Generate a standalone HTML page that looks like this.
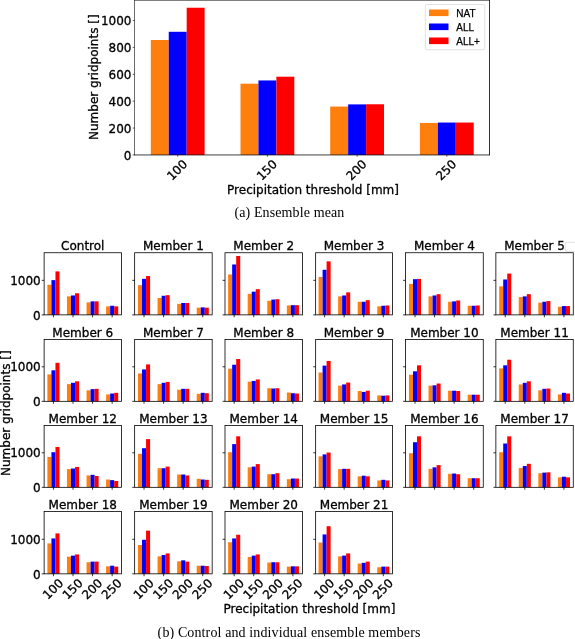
<!DOCTYPE html><html><head><meta charset="utf-8"><title>Figure</title><style>
html,body{margin:0;padding:0;background:#fff}
svg{display:block;will-change:transform}
.dv{font-family:"DejaVu Sans","Liberation Sans",sans-serif;font-size:12px;fill:#000;stroke:#000;stroke-width:0.3px}
.lg{font-family:"Liberation Sans",sans-serif;font-size:10px;fill:#000;stroke:#000;stroke-width:0.25px}
.cp{font-family:"Liberation Serif",serif;font-size:14px;fill:#000;letter-spacing:0.12px}
</style></head><body>
<svg width="575" height="639" viewBox="0 0 575 639">
<rect x="0" y="0" width="575" height="639" fill="#fff"/>
<rect x="150.80" y="40.00" width="17.94" height="114.95" fill="#ff7f0e"/>
<rect x="168.74" y="31.79" width="17.94" height="123.16" fill="#0000ff"/>
<rect x="186.68" y="7.73" width="17.94" height="147.22" fill="#ff0000"/>
<rect x="240.50" y="83.69" width="17.94" height="71.26" fill="#ff7f0e"/>
<rect x="258.44" y="80.46" width="17.94" height="74.49" fill="#0000ff"/>
<rect x="276.38" y="76.70" width="17.94" height="78.25" fill="#ff0000"/>
<rect x="330.20" y="106.55" width="17.94" height="48.40" fill="#ff7f0e"/>
<rect x="348.14" y="104.40" width="17.94" height="50.55" fill="#0000ff"/>
<rect x="366.08" y="104.26" width="17.94" height="50.69" fill="#ff0000"/>
<rect x="419.90" y="122.95" width="17.94" height="32.00" fill="#ff7f0e"/>
<rect x="437.84" y="122.55" width="17.94" height="32.40" fill="#0000ff"/>
<rect x="455.78" y="122.55" width="17.94" height="32.40" fill="#ff0000"/>
<line x1="134.5" y1="0.05" x2="134.5" y2="155.25" stroke="#000" stroke-width="0.58"/>
<line x1="489.5" y1="0.05" x2="489.5" y2="155.25" stroke="#000" stroke-width="0.8"/>
<line x1="134.20" y1="0.35" x2="489.80" y2="0.35" stroke="#000" stroke-width="0.6"/>
<line x1="134.20" y1="154.95" x2="489.80" y2="154.95" stroke="#000" stroke-width="0.75"/>
<line x1="132.7" y1="154.95" x2="134.5" y2="154.95" stroke="#000" stroke-width="0.6"/>
<text class="dv" x="131.45" y="159.55" text-anchor="end">0</text>
<line x1="132.7" y1="128.06" x2="134.5" y2="128.06" stroke="#000" stroke-width="0.6"/>
<text class="dv" x="131.45" y="132.66" text-anchor="end">200</text>
<line x1="132.7" y1="101.17" x2="134.5" y2="101.17" stroke="#000" stroke-width="0.6"/>
<text class="dv" x="131.45" y="105.77" text-anchor="end">400</text>
<line x1="132.7" y1="74.28" x2="134.5" y2="74.28" stroke="#000" stroke-width="0.6"/>
<text class="dv" x="131.45" y="78.88" text-anchor="end">600</text>
<line x1="132.7" y1="47.39" x2="134.5" y2="47.39" stroke="#000" stroke-width="0.6"/>
<text class="dv" x="131.45" y="51.99" text-anchor="end">800</text>
<line x1="132.7" y1="20.50" x2="134.5" y2="20.50" stroke="#000" stroke-width="0.6"/>
<text class="dv" x="131.45" y="25.10" text-anchor="end">1000</text>
<line x1="177.71" y1="154.95" x2="177.71" y2="156.75" stroke="#000" stroke-width="0.6"/>
<text class="dv" transform="translate(176.91,169.9) rotate(-45)" x="0" y="4.4" text-anchor="middle">100</text>
<line x1="267.41" y1="154.95" x2="267.41" y2="156.75" stroke="#000" stroke-width="0.6"/>
<text class="dv" transform="translate(266.61,169.9) rotate(-45)" x="0" y="4.4" text-anchor="middle">150</text>
<line x1="357.11" y1="154.95" x2="357.11" y2="156.75" stroke="#000" stroke-width="0.6"/>
<text class="dv" transform="translate(356.31,169.9) rotate(-45)" x="0" y="4.4" text-anchor="middle">200</text>
<line x1="446.81" y1="154.95" x2="446.81" y2="156.75" stroke="#000" stroke-width="0.6"/>
<text class="dv" transform="translate(446.01,169.9) rotate(-45)" x="0" y="4.4" text-anchor="middle">250</text>
<text class="dv" transform="translate(93.3,77.2) rotate(-90)" x="0" y="4.4" text-anchor="middle">Number gridpoints []</text>
<text class="dv" x="313.0" y="193.5" text-anchor="middle">Precipitation threshold [mm]</text>
<rect x="425.3" y="4.5" width="59.5" height="45.2" rx="1.6" ry="1.6" fill="#fff" fill-opacity="0.8" stroke="#d4d4d4" stroke-width="0.7"/>
<rect x="429" y="9.5" width="19.5" height="6.6" fill="#ff7f0e"/>
<text class="lg" x="456.3" y="16.5">NAT</text>
<rect x="429" y="23.5" width="19.5" height="6.6" fill="#0000ff"/>
<text class="lg" x="456.3" y="30.5">ALL</text>
<rect x="429" y="37.5" width="19.5" height="6.6" fill="#ff0000"/>
<text class="lg" x="456.3" y="44.5">ALL+</text>
<text class="cp" x="234.4" y="217">(a) Ensemble mean</text>
<rect x="47.40" y="284.77" width="4.03" height="30.10" fill="#ff7f0e"/>
<rect x="51.43" y="280.12" width="4.03" height="34.75" fill="#0000ff"/>
<rect x="55.46" y="271.37" width="4.03" height="43.50" fill="#ff0000"/>
<rect x="66.97" y="296.37" width="4.03" height="18.50" fill="#ff7f0e"/>
<rect x="71.00" y="295.47" width="4.03" height="19.40" fill="#0000ff"/>
<rect x="75.03" y="293.27" width="4.03" height="21.60" fill="#ff0000"/>
<rect x="86.54" y="302.37" width="4.03" height="12.50" fill="#ff7f0e"/>
<rect x="90.57" y="301.37" width="4.03" height="13.50" fill="#0000ff"/>
<rect x="94.60" y="301.37" width="4.03" height="13.50" fill="#ff0000"/>
<rect x="106.11" y="306.37" width="4.03" height="8.50" fill="#ff7f0e"/>
<rect x="110.14" y="305.77" width="4.03" height="9.10" fill="#0000ff"/>
<rect x="114.17" y="306.37" width="4.03" height="8.50" fill="#ff0000"/>
<rect x="44.13" y="252.74" width="77.30" height="62.13" fill="none" stroke="#000" stroke-width="0.8"/>
<line x1="41.73" y1="314.87" x2="44.13" y2="314.87" stroke="#000" stroke-width="0.8"/>
<text class="dv" x="40.73" y="319.57" text-anchor="end">0</text>
<line x1="41.73" y1="280.34" x2="44.13" y2="280.34" stroke="#000" stroke-width="0.8"/>
<text class="dv" x="40.73" y="285.04" text-anchor="end">1000</text>
<line x1="53.45" y1="314.87" x2="53.45" y2="317.27" stroke="#000" stroke-width="0.8"/>
<line x1="73.02" y1="314.87" x2="73.02" y2="317.27" stroke="#000" stroke-width="0.8"/>
<line x1="92.58" y1="314.87" x2="92.58" y2="317.27" stroke="#000" stroke-width="0.8"/>
<line x1="112.16" y1="314.87" x2="112.16" y2="317.27" stroke="#000" stroke-width="0.8"/>
<text class="dv" x="82.78" y="250.04" text-anchor="middle">Control</text>
<rect x="138.00" y="285.17" width="4.03" height="29.70" fill="#ff7f0e"/>
<rect x="142.03" y="278.87" width="4.03" height="36.00" fill="#0000ff"/>
<rect x="146.06" y="276.07" width="4.03" height="38.80" fill="#ff0000"/>
<rect x="157.57" y="297.97" width="4.03" height="16.90" fill="#ff7f0e"/>
<rect x="161.60" y="295.77" width="4.03" height="19.10" fill="#0000ff"/>
<rect x="165.63" y="295.17" width="4.03" height="19.70" fill="#ff0000"/>
<rect x="177.14" y="303.87" width="4.03" height="11.00" fill="#ff7f0e"/>
<rect x="181.17" y="302.97" width="4.03" height="11.90" fill="#0000ff"/>
<rect x="185.20" y="302.97" width="4.03" height="11.90" fill="#ff0000"/>
<rect x="196.71" y="307.67" width="4.03" height="7.20" fill="#ff7f0e"/>
<rect x="200.74" y="307.37" width="4.03" height="7.50" fill="#0000ff"/>
<rect x="204.77" y="307.67" width="4.03" height="7.20" fill="#ff0000"/>
<rect x="134.65" y="252.74" width="77.52" height="62.13" fill="none" stroke="#000" stroke-width="0.8"/>
<line x1="132.25" y1="314.87" x2="134.65" y2="314.87" stroke="#000" stroke-width="0.8"/>
<line x1="132.25" y1="280.34" x2="134.65" y2="280.34" stroke="#000" stroke-width="0.8"/>
<line x1="144.04" y1="314.87" x2="144.04" y2="317.27" stroke="#000" stroke-width="0.8"/>
<line x1="163.61" y1="314.87" x2="163.61" y2="317.27" stroke="#000" stroke-width="0.8"/>
<line x1="183.18" y1="314.87" x2="183.18" y2="317.27" stroke="#000" stroke-width="0.8"/>
<line x1="202.75" y1="314.87" x2="202.75" y2="317.27" stroke="#000" stroke-width="0.8"/>
<text class="dv" x="173.41" y="250.04" text-anchor="middle">Member 1</text>
<rect x="228.13" y="274.47" width="4.03" height="40.40" fill="#ff7f0e"/>
<rect x="232.16" y="264.47" width="4.03" height="50.40" fill="#0000ff"/>
<rect x="236.19" y="255.97" width="4.03" height="58.90" fill="#ff0000"/>
<rect x="247.70" y="293.87" width="4.03" height="21.00" fill="#ff7f0e"/>
<rect x="251.73" y="291.67" width="4.03" height="23.20" fill="#0000ff"/>
<rect x="255.76" y="289.17" width="4.03" height="25.70" fill="#ff0000"/>
<rect x="267.27" y="300.77" width="4.03" height="14.10" fill="#ff7f0e"/>
<rect x="271.30" y="299.57" width="4.03" height="15.30" fill="#0000ff"/>
<rect x="275.33" y="299.17" width="4.03" height="15.70" fill="#ff0000"/>
<rect x="286.84" y="305.47" width="4.03" height="9.40" fill="#ff7f0e"/>
<rect x="290.87" y="305.17" width="4.03" height="9.70" fill="#0000ff"/>
<rect x="294.90" y="305.17" width="4.03" height="9.70" fill="#ff0000"/>
<rect x="225.00" y="252.74" width="77.48" height="62.13" fill="none" stroke="#000" stroke-width="0.8"/>
<line x1="222.60" y1="314.87" x2="225.00" y2="314.87" stroke="#000" stroke-width="0.8"/>
<line x1="222.60" y1="280.34" x2="225.00" y2="280.34" stroke="#000" stroke-width="0.8"/>
<line x1="234.17" y1="314.87" x2="234.17" y2="317.27" stroke="#000" stroke-width="0.8"/>
<line x1="253.74" y1="314.87" x2="253.74" y2="317.27" stroke="#000" stroke-width="0.8"/>
<line x1="273.31" y1="314.87" x2="273.31" y2="317.27" stroke="#000" stroke-width="0.8"/>
<line x1="292.88" y1="314.87" x2="292.88" y2="317.27" stroke="#000" stroke-width="0.8"/>
<text class="dv" x="263.74" y="250.04" text-anchor="middle">Member 2</text>
<rect x="318.55" y="276.97" width="4.03" height="37.90" fill="#ff7f0e"/>
<rect x="322.58" y="269.77" width="4.03" height="45.10" fill="#0000ff"/>
<rect x="326.61" y="261.37" width="4.03" height="53.50" fill="#ff0000"/>
<rect x="338.12" y="296.37" width="4.03" height="18.50" fill="#ff7f0e"/>
<rect x="342.15" y="295.47" width="4.03" height="19.40" fill="#0000ff"/>
<rect x="346.18" y="292.37" width="4.03" height="22.50" fill="#ff0000"/>
<rect x="357.69" y="301.77" width="4.03" height="13.10" fill="#ff7f0e"/>
<rect x="361.72" y="301.77" width="4.03" height="13.10" fill="#0000ff"/>
<rect x="365.75" y="300.17" width="4.03" height="14.70" fill="#ff0000"/>
<rect x="377.26" y="306.37" width="4.03" height="8.50" fill="#ff7f0e"/>
<rect x="381.29" y="305.77" width="4.03" height="9.10" fill="#0000ff"/>
<rect x="385.32" y="305.47" width="4.03" height="9.40" fill="#ff0000"/>
<rect x="315.65" y="252.74" width="76.83" height="62.13" fill="none" stroke="#000" stroke-width="0.8"/>
<line x1="313.25" y1="314.87" x2="315.65" y2="314.87" stroke="#000" stroke-width="0.8"/>
<line x1="313.25" y1="280.34" x2="315.65" y2="280.34" stroke="#000" stroke-width="0.8"/>
<line x1="324.60" y1="314.87" x2="324.60" y2="317.27" stroke="#000" stroke-width="0.8"/>
<line x1="344.17" y1="314.87" x2="344.17" y2="317.27" stroke="#000" stroke-width="0.8"/>
<line x1="363.74" y1="314.87" x2="363.74" y2="317.27" stroke="#000" stroke-width="0.8"/>
<line x1="383.31" y1="314.87" x2="383.31" y2="317.27" stroke="#000" stroke-width="0.8"/>
<text class="dv" x="354.06" y="250.04" text-anchor="middle">Member 3</text>
<rect x="408.95" y="283.87" width="4.03" height="31.00" fill="#ff7f0e"/>
<rect x="412.98" y="279.17" width="4.03" height="35.70" fill="#0000ff"/>
<rect x="417.01" y="278.87" width="4.03" height="36.00" fill="#ff0000"/>
<rect x="428.52" y="296.37" width="4.03" height="18.50" fill="#ff7f0e"/>
<rect x="432.55" y="295.47" width="4.03" height="19.40" fill="#0000ff"/>
<rect x="436.58" y="294.17" width="4.03" height="20.70" fill="#ff0000"/>
<rect x="448.09" y="301.77" width="4.03" height="13.10" fill="#ff7f0e"/>
<rect x="452.12" y="301.37" width="4.03" height="13.50" fill="#0000ff"/>
<rect x="456.15" y="300.47" width="4.03" height="14.40" fill="#ff0000"/>
<rect x="467.66" y="305.77" width="4.03" height="9.10" fill="#ff7f0e"/>
<rect x="471.69" y="305.77" width="4.03" height="9.10" fill="#0000ff"/>
<rect x="475.72" y="305.47" width="4.03" height="9.40" fill="#ff0000"/>
<rect x="405.50" y="252.74" width="77.76" height="62.13" fill="none" stroke="#000" stroke-width="0.8"/>
<line x1="403.10" y1="314.87" x2="405.50" y2="314.87" stroke="#000" stroke-width="0.8"/>
<line x1="403.10" y1="280.34" x2="405.50" y2="280.34" stroke="#000" stroke-width="0.8"/>
<line x1="415.00" y1="314.87" x2="415.00" y2="317.27" stroke="#000" stroke-width="0.8"/>
<line x1="434.56" y1="314.87" x2="434.56" y2="317.27" stroke="#000" stroke-width="0.8"/>
<line x1="454.13" y1="314.87" x2="454.13" y2="317.27" stroke="#000" stroke-width="0.8"/>
<line x1="473.70" y1="314.87" x2="473.70" y2="317.27" stroke="#000" stroke-width="0.8"/>
<text class="dv" x="444.38" y="250.04" text-anchor="middle">Member 4</text>
<rect x="499.18" y="286.37" width="4.03" height="28.50" fill="#ff7f0e"/>
<rect x="503.21" y="279.47" width="4.03" height="35.40" fill="#0000ff"/>
<rect x="507.24" y="273.57" width="4.03" height="41.30" fill="#ff0000"/>
<rect x="518.75" y="297.07" width="4.03" height="17.80" fill="#ff7f0e"/>
<rect x="522.78" y="296.37" width="4.03" height="18.50" fill="#0000ff"/>
<rect x="526.81" y="294.17" width="4.03" height="20.70" fill="#ff0000"/>
<rect x="538.32" y="302.67" width="4.03" height="12.20" fill="#ff7f0e"/>
<rect x="542.35" y="301.77" width="4.03" height="13.10" fill="#0000ff"/>
<rect x="546.38" y="301.07" width="4.03" height="13.80" fill="#ff0000"/>
<rect x="557.89" y="306.77" width="4.03" height="8.10" fill="#ff7f0e"/>
<rect x="561.92" y="306.07" width="4.03" height="8.80" fill="#0000ff"/>
<rect x="565.95" y="306.07" width="4.03" height="8.80" fill="#ff0000"/>
<rect x="495.87" y="252.74" width="77.39" height="62.13" fill="none" stroke="#000" stroke-width="0.8"/>
<line x1="493.47" y1="314.87" x2="495.87" y2="314.87" stroke="#000" stroke-width="0.8"/>
<line x1="493.47" y1="280.34" x2="495.87" y2="280.34" stroke="#000" stroke-width="0.8"/>
<line x1="505.23" y1="314.87" x2="505.23" y2="317.27" stroke="#000" stroke-width="0.8"/>
<line x1="524.79" y1="314.87" x2="524.79" y2="317.27" stroke="#000" stroke-width="0.8"/>
<line x1="544.37" y1="314.87" x2="544.37" y2="317.27" stroke="#000" stroke-width="0.8"/>
<line x1="563.93" y1="314.87" x2="563.93" y2="317.27" stroke="#000" stroke-width="0.8"/>
<text class="dv" x="534.57" y="250.04" text-anchor="middle">Member 5</text>
<rect x="47.40" y="374.42" width="4.03" height="26.90" fill="#ff7f0e"/>
<rect x="51.43" y="370.32" width="4.03" height="31.00" fill="#0000ff"/>
<rect x="55.46" y="362.82" width="4.03" height="38.50" fill="#ff0000"/>
<rect x="66.97" y="384.12" width="4.03" height="17.20" fill="#ff7f0e"/>
<rect x="71.00" y="382.82" width="4.03" height="18.50" fill="#0000ff"/>
<rect x="75.03" y="381.32" width="4.03" height="20.00" fill="#ff0000"/>
<rect x="86.54" y="390.32" width="4.03" height="11.00" fill="#ff7f0e"/>
<rect x="90.57" y="389.12" width="4.03" height="12.20" fill="#0000ff"/>
<rect x="94.60" y="388.82" width="4.03" height="12.50" fill="#ff0000"/>
<rect x="106.11" y="394.42" width="4.03" height="6.90" fill="#ff7f0e"/>
<rect x="110.14" y="393.52" width="4.03" height="7.80" fill="#0000ff"/>
<rect x="114.17" y="392.82" width="4.03" height="8.50" fill="#ff0000"/>
<rect x="44.13" y="339.44" width="77.30" height="61.88" fill="none" stroke="#000" stroke-width="0.8"/>
<line x1="41.73" y1="401.32" x2="44.13" y2="401.32" stroke="#000" stroke-width="0.8"/>
<text class="dv" x="40.73" y="406.02" text-anchor="end">0</text>
<line x1="41.73" y1="366.79" x2="44.13" y2="366.79" stroke="#000" stroke-width="0.8"/>
<text class="dv" x="40.73" y="371.49" text-anchor="end">1000</text>
<line x1="53.45" y1="401.32" x2="53.45" y2="403.72" stroke="#000" stroke-width="0.8"/>
<line x1="73.02" y1="401.32" x2="73.02" y2="403.72" stroke="#000" stroke-width="0.8"/>
<line x1="92.58" y1="401.32" x2="92.58" y2="403.72" stroke="#000" stroke-width="0.8"/>
<line x1="112.16" y1="401.32" x2="112.16" y2="403.72" stroke="#000" stroke-width="0.8"/>
<text class="dv" x="82.78" y="336.74" text-anchor="middle">Member 6</text>
<rect x="138.00" y="373.42" width="4.03" height="27.90" fill="#ff7f0e"/>
<rect x="142.03" y="369.42" width="4.03" height="31.90" fill="#0000ff"/>
<rect x="146.06" y="364.42" width="4.03" height="36.90" fill="#ff0000"/>
<rect x="157.57" y="384.12" width="4.03" height="17.20" fill="#ff7f0e"/>
<rect x="161.60" y="382.82" width="4.03" height="18.50" fill="#0000ff"/>
<rect x="165.63" y="381.92" width="4.03" height="19.40" fill="#ff0000"/>
<rect x="177.14" y="389.72" width="4.03" height="11.60" fill="#ff7f0e"/>
<rect x="181.17" y="388.82" width="4.03" height="12.50" fill="#0000ff"/>
<rect x="185.20" y="388.82" width="4.03" height="12.50" fill="#ff0000"/>
<rect x="196.71" y="393.82" width="4.03" height="7.50" fill="#ff7f0e"/>
<rect x="200.74" y="392.82" width="4.03" height="8.50" fill="#0000ff"/>
<rect x="204.77" y="393.22" width="4.03" height="8.10" fill="#ff0000"/>
<rect x="134.65" y="339.44" width="77.52" height="61.88" fill="none" stroke="#000" stroke-width="0.8"/>
<line x1="132.25" y1="401.32" x2="134.65" y2="401.32" stroke="#000" stroke-width="0.8"/>
<line x1="132.25" y1="366.79" x2="134.65" y2="366.79" stroke="#000" stroke-width="0.8"/>
<line x1="144.04" y1="401.32" x2="144.04" y2="403.72" stroke="#000" stroke-width="0.8"/>
<line x1="163.61" y1="401.32" x2="163.61" y2="403.72" stroke="#000" stroke-width="0.8"/>
<line x1="183.18" y1="401.32" x2="183.18" y2="403.72" stroke="#000" stroke-width="0.8"/>
<line x1="202.75" y1="401.32" x2="202.75" y2="403.72" stroke="#000" stroke-width="0.8"/>
<text class="dv" x="173.41" y="336.74" text-anchor="middle">Member 7</text>
<rect x="228.13" y="368.72" width="4.03" height="32.60" fill="#ff7f0e"/>
<rect x="232.16" y="364.72" width="4.03" height="36.60" fill="#0000ff"/>
<rect x="236.19" y="359.02" width="4.03" height="42.30" fill="#ff0000"/>
<rect x="247.70" y="381.62" width="4.03" height="19.70" fill="#ff7f0e"/>
<rect x="251.73" y="380.92" width="4.03" height="20.40" fill="#0000ff"/>
<rect x="255.76" y="379.42" width="4.03" height="21.90" fill="#ff0000"/>
<rect x="267.27" y="388.22" width="4.03" height="13.10" fill="#ff7f0e"/>
<rect x="271.30" y="388.52" width="4.03" height="12.80" fill="#0000ff"/>
<rect x="275.33" y="388.22" width="4.03" height="13.10" fill="#ff0000"/>
<rect x="286.84" y="392.52" width="4.03" height="8.80" fill="#ff7f0e"/>
<rect x="290.87" y="393.22" width="4.03" height="8.10" fill="#0000ff"/>
<rect x="294.90" y="393.52" width="4.03" height="7.80" fill="#ff0000"/>
<rect x="225.00" y="339.44" width="77.48" height="61.88" fill="none" stroke="#000" stroke-width="0.8"/>
<line x1="222.60" y1="401.32" x2="225.00" y2="401.32" stroke="#000" stroke-width="0.8"/>
<line x1="222.60" y1="366.79" x2="225.00" y2="366.79" stroke="#000" stroke-width="0.8"/>
<line x1="234.17" y1="401.32" x2="234.17" y2="403.72" stroke="#000" stroke-width="0.8"/>
<line x1="253.74" y1="401.32" x2="253.74" y2="403.72" stroke="#000" stroke-width="0.8"/>
<line x1="273.31" y1="401.32" x2="273.31" y2="403.72" stroke="#000" stroke-width="0.8"/>
<line x1="292.88" y1="401.32" x2="292.88" y2="403.72" stroke="#000" stroke-width="0.8"/>
<text class="dv" x="263.74" y="336.74" text-anchor="middle">Member 8</text>
<rect x="318.55" y="372.52" width="4.03" height="28.80" fill="#ff7f0e"/>
<rect x="322.58" y="365.62" width="4.03" height="35.70" fill="#0000ff"/>
<rect x="326.61" y="360.92" width="4.03" height="40.40" fill="#ff0000"/>
<rect x="338.12" y="385.62" width="4.03" height="15.70" fill="#ff7f0e"/>
<rect x="342.15" y="384.42" width="4.03" height="16.90" fill="#0000ff"/>
<rect x="346.18" y="382.52" width="4.03" height="18.80" fill="#ff0000"/>
<rect x="357.69" y="391.02" width="4.03" height="10.30" fill="#ff7f0e"/>
<rect x="361.72" y="391.92" width="4.03" height="9.40" fill="#0000ff"/>
<rect x="365.75" y="390.72" width="4.03" height="10.60" fill="#ff0000"/>
<rect x="377.26" y="395.42" width="4.03" height="5.90" fill="#ff7f0e"/>
<rect x="381.29" y="395.72" width="4.03" height="5.60" fill="#0000ff"/>
<rect x="385.32" y="395.42" width="4.03" height="5.90" fill="#ff0000"/>
<rect x="315.65" y="339.44" width="76.83" height="61.88" fill="none" stroke="#000" stroke-width="0.8"/>
<line x1="313.25" y1="401.32" x2="315.65" y2="401.32" stroke="#000" stroke-width="0.8"/>
<line x1="313.25" y1="366.79" x2="315.65" y2="366.79" stroke="#000" stroke-width="0.8"/>
<line x1="324.60" y1="401.32" x2="324.60" y2="403.72" stroke="#000" stroke-width="0.8"/>
<line x1="344.17" y1="401.32" x2="344.17" y2="403.72" stroke="#000" stroke-width="0.8"/>
<line x1="363.74" y1="401.32" x2="363.74" y2="403.72" stroke="#000" stroke-width="0.8"/>
<line x1="383.31" y1="401.32" x2="383.31" y2="403.72" stroke="#000" stroke-width="0.8"/>
<text class="dv" x="354.06" y="336.74" text-anchor="middle">Member 9</text>
<rect x="408.95" y="374.72" width="4.03" height="26.60" fill="#ff7f0e"/>
<rect x="412.98" y="371.32" width="4.03" height="30.00" fill="#0000ff"/>
<rect x="417.01" y="365.32" width="4.03" height="36.00" fill="#ff0000"/>
<rect x="428.52" y="385.62" width="4.03" height="15.70" fill="#ff7f0e"/>
<rect x="432.55" y="385.32" width="4.03" height="16.00" fill="#0000ff"/>
<rect x="436.58" y="383.52" width="4.03" height="17.80" fill="#ff0000"/>
<rect x="448.09" y="390.72" width="4.03" height="10.60" fill="#ff7f0e"/>
<rect x="452.12" y="390.72" width="4.03" height="10.60" fill="#0000ff"/>
<rect x="456.15" y="391.02" width="4.03" height="10.30" fill="#ff0000"/>
<rect x="467.66" y="394.72" width="4.03" height="6.60" fill="#ff7f0e"/>
<rect x="471.69" y="394.72" width="4.03" height="6.60" fill="#0000ff"/>
<rect x="475.72" y="394.72" width="4.03" height="6.60" fill="#ff0000"/>
<rect x="405.50" y="339.44" width="77.76" height="61.88" fill="none" stroke="#000" stroke-width="0.8"/>
<line x1="403.10" y1="401.32" x2="405.50" y2="401.32" stroke="#000" stroke-width="0.8"/>
<line x1="403.10" y1="366.79" x2="405.50" y2="366.79" stroke="#000" stroke-width="0.8"/>
<line x1="415.00" y1="401.32" x2="415.00" y2="403.72" stroke="#000" stroke-width="0.8"/>
<line x1="434.56" y1="401.32" x2="434.56" y2="403.72" stroke="#000" stroke-width="0.8"/>
<line x1="454.13" y1="401.32" x2="454.13" y2="403.72" stroke="#000" stroke-width="0.8"/>
<line x1="473.70" y1="401.32" x2="473.70" y2="403.72" stroke="#000" stroke-width="0.8"/>
<text class="dv" x="444.38" y="336.74" text-anchor="middle">Member 10</text>
<rect x="499.18" y="368.42" width="4.03" height="32.90" fill="#ff7f0e"/>
<rect x="503.21" y="365.32" width="4.03" height="36.00" fill="#0000ff"/>
<rect x="507.24" y="359.72" width="4.03" height="41.60" fill="#ff0000"/>
<rect x="518.75" y="384.42" width="4.03" height="16.90" fill="#ff7f0e"/>
<rect x="522.78" y="382.82" width="4.03" height="18.50" fill="#0000ff"/>
<rect x="526.81" y="381.32" width="4.03" height="20.00" fill="#ff0000"/>
<rect x="538.32" y="390.32" width="4.03" height="11.00" fill="#ff7f0e"/>
<rect x="542.35" y="388.82" width="4.03" height="12.50" fill="#0000ff"/>
<rect x="546.38" y="388.52" width="4.03" height="12.80" fill="#ff0000"/>
<rect x="557.89" y="394.42" width="4.03" height="6.90" fill="#ff7f0e"/>
<rect x="561.92" y="392.82" width="4.03" height="8.50" fill="#0000ff"/>
<rect x="565.95" y="393.52" width="4.03" height="7.80" fill="#ff0000"/>
<rect x="495.87" y="339.44" width="77.39" height="61.88" fill="none" stroke="#000" stroke-width="0.8"/>
<line x1="493.47" y1="401.32" x2="495.87" y2="401.32" stroke="#000" stroke-width="0.8"/>
<line x1="493.47" y1="366.79" x2="495.87" y2="366.79" stroke="#000" stroke-width="0.8"/>
<line x1="505.23" y1="401.32" x2="505.23" y2="403.72" stroke="#000" stroke-width="0.8"/>
<line x1="524.79" y1="401.32" x2="524.79" y2="403.72" stroke="#000" stroke-width="0.8"/>
<line x1="544.37" y1="401.32" x2="544.37" y2="403.72" stroke="#000" stroke-width="0.8"/>
<line x1="563.93" y1="401.32" x2="563.93" y2="403.72" stroke="#000" stroke-width="0.8"/>
<text class="dv" x="534.57" y="336.74" text-anchor="middle">Member 11</text>
<rect x="47.40" y="456.92" width="4.03" height="30.40" fill="#ff7f0e"/>
<rect x="51.43" y="452.22" width="4.03" height="35.10" fill="#0000ff"/>
<rect x="55.46" y="446.92" width="4.03" height="40.40" fill="#ff0000"/>
<rect x="66.97" y="469.12" width="4.03" height="18.20" fill="#ff7f0e"/>
<rect x="71.00" y="468.52" width="4.03" height="18.80" fill="#0000ff"/>
<rect x="75.03" y="466.92" width="4.03" height="20.40" fill="#ff0000"/>
<rect x="86.54" y="475.42" width="4.03" height="11.90" fill="#ff7f0e"/>
<rect x="90.57" y="474.82" width="4.03" height="12.50" fill="#0000ff"/>
<rect x="94.60" y="476.02" width="4.03" height="11.30" fill="#ff0000"/>
<rect x="106.11" y="479.52" width="4.03" height="7.80" fill="#ff7f0e"/>
<rect x="110.14" y="480.12" width="4.03" height="7.20" fill="#0000ff"/>
<rect x="114.17" y="481.02" width="4.03" height="6.30" fill="#ff0000"/>
<rect x="44.13" y="425.55" width="77.30" height="61.77" fill="none" stroke="#000" stroke-width="0.8"/>
<line x1="41.73" y1="487.32" x2="44.13" y2="487.32" stroke="#000" stroke-width="0.8"/>
<text class="dv" x="40.73" y="492.02" text-anchor="end">0</text>
<line x1="41.73" y1="452.79" x2="44.13" y2="452.79" stroke="#000" stroke-width="0.8"/>
<text class="dv" x="40.73" y="457.49" text-anchor="end">1000</text>
<line x1="53.45" y1="487.32" x2="53.45" y2="489.72" stroke="#000" stroke-width="0.8"/>
<line x1="73.02" y1="487.32" x2="73.02" y2="489.72" stroke="#000" stroke-width="0.8"/>
<line x1="92.58" y1="487.32" x2="92.58" y2="489.72" stroke="#000" stroke-width="0.8"/>
<line x1="112.16" y1="487.32" x2="112.16" y2="489.72" stroke="#000" stroke-width="0.8"/>
<text class="dv" x="82.78" y="422.85" text-anchor="middle">Member 12</text>
<rect x="138.00" y="453.82" width="4.03" height="33.50" fill="#ff7f0e"/>
<rect x="142.03" y="448.22" width="4.03" height="39.10" fill="#0000ff"/>
<rect x="146.06" y="439.12" width="4.03" height="48.20" fill="#ff0000"/>
<rect x="157.57" y="468.22" width="4.03" height="19.10" fill="#ff7f0e"/>
<rect x="161.60" y="468.22" width="4.03" height="19.10" fill="#0000ff"/>
<rect x="165.63" y="466.62" width="4.03" height="20.70" fill="#ff0000"/>
<rect x="177.14" y="474.52" width="4.03" height="12.80" fill="#ff7f0e"/>
<rect x="181.17" y="474.52" width="4.03" height="12.80" fill="#0000ff"/>
<rect x="185.20" y="475.42" width="4.03" height="11.90" fill="#ff0000"/>
<rect x="196.71" y="478.82" width="4.03" height="8.50" fill="#ff7f0e"/>
<rect x="200.74" y="479.52" width="4.03" height="7.80" fill="#0000ff"/>
<rect x="204.77" y="479.82" width="4.03" height="7.50" fill="#ff0000"/>
<rect x="134.65" y="425.55" width="77.52" height="61.77" fill="none" stroke="#000" stroke-width="0.8"/>
<line x1="132.25" y1="487.32" x2="134.65" y2="487.32" stroke="#000" stroke-width="0.8"/>
<line x1="132.25" y1="452.79" x2="134.65" y2="452.79" stroke="#000" stroke-width="0.8"/>
<line x1="144.04" y1="487.32" x2="144.04" y2="489.72" stroke="#000" stroke-width="0.8"/>
<line x1="163.61" y1="487.32" x2="163.61" y2="489.72" stroke="#000" stroke-width="0.8"/>
<line x1="183.18" y1="487.32" x2="183.18" y2="489.72" stroke="#000" stroke-width="0.8"/>
<line x1="202.75" y1="487.32" x2="202.75" y2="489.72" stroke="#000" stroke-width="0.8"/>
<text class="dv" x="173.41" y="422.85" text-anchor="middle">Member 13</text>
<rect x="228.13" y="452.22" width="4.03" height="35.10" fill="#ff7f0e"/>
<rect x="232.16" y="444.12" width="4.03" height="43.20" fill="#0000ff"/>
<rect x="236.19" y="436.32" width="4.03" height="51.00" fill="#ff0000"/>
<rect x="247.70" y="467.32" width="4.03" height="20.00" fill="#ff7f0e"/>
<rect x="251.73" y="466.62" width="4.03" height="20.70" fill="#0000ff"/>
<rect x="255.76" y="464.12" width="4.03" height="23.20" fill="#ff0000"/>
<rect x="267.27" y="474.22" width="4.03" height="13.10" fill="#ff7f0e"/>
<rect x="271.30" y="474.22" width="4.03" height="13.10" fill="#0000ff"/>
<rect x="275.33" y="473.22" width="4.03" height="14.10" fill="#ff0000"/>
<rect x="286.84" y="479.22" width="4.03" height="8.10" fill="#ff7f0e"/>
<rect x="290.87" y="478.52" width="4.03" height="8.80" fill="#0000ff"/>
<rect x="294.90" y="478.52" width="4.03" height="8.80" fill="#ff0000"/>
<rect x="225.00" y="425.55" width="77.48" height="61.77" fill="none" stroke="#000" stroke-width="0.8"/>
<line x1="222.60" y1="487.32" x2="225.00" y2="487.32" stroke="#000" stroke-width="0.8"/>
<line x1="222.60" y1="452.79" x2="225.00" y2="452.79" stroke="#000" stroke-width="0.8"/>
<line x1="234.17" y1="487.32" x2="234.17" y2="489.72" stroke="#000" stroke-width="0.8"/>
<line x1="253.74" y1="487.32" x2="253.74" y2="489.72" stroke="#000" stroke-width="0.8"/>
<line x1="273.31" y1="487.32" x2="273.31" y2="489.72" stroke="#000" stroke-width="0.8"/>
<line x1="292.88" y1="487.32" x2="292.88" y2="489.72" stroke="#000" stroke-width="0.8"/>
<text class="dv" x="263.74" y="422.85" text-anchor="middle">Member 14</text>
<rect x="318.55" y="456.32" width="4.03" height="31.00" fill="#ff7f0e"/>
<rect x="322.58" y="454.42" width="4.03" height="32.90" fill="#0000ff"/>
<rect x="326.61" y="452.52" width="4.03" height="34.80" fill="#ff0000"/>
<rect x="338.12" y="469.12" width="4.03" height="18.20" fill="#ff7f0e"/>
<rect x="342.15" y="468.82" width="4.03" height="18.50" fill="#0000ff"/>
<rect x="346.18" y="468.82" width="4.03" height="18.50" fill="#ff0000"/>
<rect x="357.69" y="476.32" width="4.03" height="11.00" fill="#ff7f0e"/>
<rect x="361.72" y="475.72" width="4.03" height="11.60" fill="#0000ff"/>
<rect x="365.75" y="476.32" width="4.03" height="11.00" fill="#ff0000"/>
<rect x="377.26" y="480.42" width="4.03" height="6.90" fill="#ff7f0e"/>
<rect x="381.29" y="479.82" width="4.03" height="7.50" fill="#0000ff"/>
<rect x="385.32" y="480.42" width="4.03" height="6.90" fill="#ff0000"/>
<rect x="315.65" y="425.55" width="76.83" height="61.77" fill="none" stroke="#000" stroke-width="0.8"/>
<line x1="313.25" y1="487.32" x2="315.65" y2="487.32" stroke="#000" stroke-width="0.8"/>
<line x1="313.25" y1="452.79" x2="315.65" y2="452.79" stroke="#000" stroke-width="0.8"/>
<line x1="324.60" y1="487.32" x2="324.60" y2="489.72" stroke="#000" stroke-width="0.8"/>
<line x1="344.17" y1="487.32" x2="344.17" y2="489.72" stroke="#000" stroke-width="0.8"/>
<line x1="363.74" y1="487.32" x2="363.74" y2="489.72" stroke="#000" stroke-width="0.8"/>
<line x1="383.31" y1="487.32" x2="383.31" y2="489.72" stroke="#000" stroke-width="0.8"/>
<text class="dv" x="354.06" y="422.85" text-anchor="middle">Member 15</text>
<rect x="408.95" y="453.22" width="4.03" height="34.10" fill="#ff7f0e"/>
<rect x="412.98" y="442.22" width="4.03" height="45.10" fill="#0000ff"/>
<rect x="417.01" y="436.32" width="4.03" height="51.00" fill="#ff0000"/>
<rect x="428.52" y="468.82" width="4.03" height="18.50" fill="#ff7f0e"/>
<rect x="432.55" y="467.32" width="4.03" height="20.00" fill="#0000ff"/>
<rect x="436.58" y="465.12" width="4.03" height="22.20" fill="#ff0000"/>
<rect x="448.09" y="473.82" width="4.03" height="13.50" fill="#ff7f0e"/>
<rect x="452.12" y="473.52" width="4.03" height="13.80" fill="#0000ff"/>
<rect x="456.15" y="474.22" width="4.03" height="13.10" fill="#ff0000"/>
<rect x="467.66" y="478.22" width="4.03" height="9.10" fill="#ff7f0e"/>
<rect x="471.69" y="478.22" width="4.03" height="9.10" fill="#0000ff"/>
<rect x="475.72" y="478.22" width="4.03" height="9.10" fill="#ff0000"/>
<rect x="405.50" y="425.55" width="77.76" height="61.77" fill="none" stroke="#000" stroke-width="0.8"/>
<line x1="403.10" y1="487.32" x2="405.50" y2="487.32" stroke="#000" stroke-width="0.8"/>
<line x1="403.10" y1="452.79" x2="405.50" y2="452.79" stroke="#000" stroke-width="0.8"/>
<line x1="415.00" y1="487.32" x2="415.00" y2="489.72" stroke="#000" stroke-width="0.8"/>
<line x1="434.56" y1="487.32" x2="434.56" y2="489.72" stroke="#000" stroke-width="0.8"/>
<line x1="454.13" y1="487.32" x2="454.13" y2="489.72" stroke="#000" stroke-width="0.8"/>
<line x1="473.70" y1="487.32" x2="473.70" y2="489.72" stroke="#000" stroke-width="0.8"/>
<text class="dv" x="444.38" y="422.85" text-anchor="middle">Member 16</text>
<rect x="499.18" y="452.22" width="4.03" height="35.10" fill="#ff7f0e"/>
<rect x="503.21" y="443.52" width="4.03" height="43.80" fill="#0000ff"/>
<rect x="507.24" y="436.32" width="4.03" height="51.00" fill="#ff0000"/>
<rect x="518.75" y="467.92" width="4.03" height="19.40" fill="#ff7f0e"/>
<rect x="522.78" y="466.02" width="4.03" height="21.30" fill="#0000ff"/>
<rect x="526.81" y="463.82" width="4.03" height="23.50" fill="#ff0000"/>
<rect x="538.32" y="473.22" width="4.03" height="14.10" fill="#ff7f0e"/>
<rect x="542.35" y="472.62" width="4.03" height="14.70" fill="#0000ff"/>
<rect x="546.38" y="472.32" width="4.03" height="15.00" fill="#ff0000"/>
<rect x="557.89" y="477.32" width="4.03" height="10.00" fill="#ff7f0e"/>
<rect x="561.92" y="476.72" width="4.03" height="10.60" fill="#0000ff"/>
<rect x="565.95" y="477.32" width="4.03" height="10.00" fill="#ff0000"/>
<rect x="495.87" y="425.55" width="77.39" height="61.77" fill="none" stroke="#000" stroke-width="0.8"/>
<line x1="493.47" y1="487.32" x2="495.87" y2="487.32" stroke="#000" stroke-width="0.8"/>
<line x1="493.47" y1="452.79" x2="495.87" y2="452.79" stroke="#000" stroke-width="0.8"/>
<line x1="505.23" y1="487.32" x2="505.23" y2="489.72" stroke="#000" stroke-width="0.8"/>
<line x1="524.79" y1="487.32" x2="524.79" y2="489.72" stroke="#000" stroke-width="0.8"/>
<line x1="544.37" y1="487.32" x2="544.37" y2="489.72" stroke="#000" stroke-width="0.8"/>
<line x1="563.93" y1="487.32" x2="563.93" y2="489.72" stroke="#000" stroke-width="0.8"/>
<text class="dv" x="534.57" y="422.85" text-anchor="middle">Member 17</text>
<rect x="47.40" y="543.43" width="4.03" height="30.40" fill="#ff7f0e"/>
<rect x="51.43" y="538.43" width="4.03" height="35.40" fill="#0000ff"/>
<rect x="55.46" y="533.43" width="4.03" height="40.40" fill="#ff0000"/>
<rect x="66.97" y="556.63" width="4.03" height="17.20" fill="#ff7f0e"/>
<rect x="71.00" y="555.63" width="4.03" height="18.20" fill="#0000ff"/>
<rect x="75.03" y="554.43" width="4.03" height="19.40" fill="#ff0000"/>
<rect x="86.54" y="562.23" width="4.03" height="11.60" fill="#ff7f0e"/>
<rect x="90.57" y="561.63" width="4.03" height="12.20" fill="#0000ff"/>
<rect x="94.60" y="561.63" width="4.03" height="12.20" fill="#ff0000"/>
<rect x="106.11" y="566.33" width="4.03" height="7.50" fill="#ff7f0e"/>
<rect x="110.14" y="565.73" width="4.03" height="8.10" fill="#0000ff"/>
<rect x="114.17" y="566.63" width="4.03" height="7.20" fill="#ff0000"/>
<rect x="44.13" y="511.55" width="77.30" height="62.28" fill="none" stroke="#000" stroke-width="0.8"/>
<line x1="41.73" y1="573.83" x2="44.13" y2="573.83" stroke="#000" stroke-width="0.8"/>
<text class="dv" x="40.73" y="578.53" text-anchor="end">0</text>
<line x1="41.73" y1="539.30" x2="44.13" y2="539.30" stroke="#000" stroke-width="0.8"/>
<text class="dv" x="40.73" y="544.00" text-anchor="end">1000</text>
<line x1="53.45" y1="573.83" x2="53.45" y2="576.23" stroke="#000" stroke-width="0.8"/>
<text class="dv" transform="translate(52.84,588.83) rotate(-45)" x="0" y="4.4" text-anchor="middle">100</text>
<line x1="73.02" y1="573.83" x2="73.02" y2="576.23" stroke="#000" stroke-width="0.8"/>
<text class="dv" transform="translate(72.42,588.83) rotate(-45)" x="0" y="4.4" text-anchor="middle">150</text>
<line x1="92.58" y1="573.83" x2="92.58" y2="576.23" stroke="#000" stroke-width="0.8"/>
<text class="dv" transform="translate(91.98,588.83) rotate(-45)" x="0" y="4.4" text-anchor="middle">200</text>
<line x1="112.16" y1="573.83" x2="112.16" y2="576.23" stroke="#000" stroke-width="0.8"/>
<text class="dv" transform="translate(111.56,588.83) rotate(-45)" x="0" y="4.4" text-anchor="middle">250</text>
<text class="dv" x="82.78" y="508.85" text-anchor="middle">Member 18</text>
<rect x="138.00" y="545.03" width="4.03" height="28.80" fill="#ff7f0e"/>
<rect x="142.03" y="539.73" width="4.03" height="34.10" fill="#0000ff"/>
<rect x="146.06" y="530.63" width="4.03" height="43.20" fill="#ff0000"/>
<rect x="157.57" y="556.33" width="4.03" height="17.50" fill="#ff7f0e"/>
<rect x="161.60" y="555.03" width="4.03" height="18.80" fill="#0000ff"/>
<rect x="165.63" y="553.43" width="4.03" height="20.40" fill="#ff0000"/>
<rect x="177.14" y="561.33" width="4.03" height="12.50" fill="#ff7f0e"/>
<rect x="181.17" y="560.33" width="4.03" height="13.50" fill="#0000ff"/>
<rect x="185.20" y="561.63" width="4.03" height="12.20" fill="#ff0000"/>
<rect x="196.71" y="565.73" width="4.03" height="8.10" fill="#ff7f0e"/>
<rect x="200.74" y="565.73" width="4.03" height="8.10" fill="#0000ff"/>
<rect x="204.77" y="566.03" width="4.03" height="7.80" fill="#ff0000"/>
<rect x="134.65" y="511.55" width="77.52" height="62.28" fill="none" stroke="#000" stroke-width="0.8"/>
<line x1="132.25" y1="573.83" x2="134.65" y2="573.83" stroke="#000" stroke-width="0.8"/>
<line x1="132.25" y1="539.30" x2="134.65" y2="539.30" stroke="#000" stroke-width="0.8"/>
<line x1="144.04" y1="573.83" x2="144.04" y2="576.23" stroke="#000" stroke-width="0.8"/>
<text class="dv" transform="translate(143.44,588.83) rotate(-45)" x="0" y="4.4" text-anchor="middle">100</text>
<line x1="163.61" y1="573.83" x2="163.61" y2="576.23" stroke="#000" stroke-width="0.8"/>
<text class="dv" transform="translate(163.01,588.83) rotate(-45)" x="0" y="4.4" text-anchor="middle">150</text>
<line x1="183.18" y1="573.83" x2="183.18" y2="576.23" stroke="#000" stroke-width="0.8"/>
<text class="dv" transform="translate(182.58,588.83) rotate(-45)" x="0" y="4.4" text-anchor="middle">200</text>
<line x1="202.75" y1="573.83" x2="202.75" y2="576.23" stroke="#000" stroke-width="0.8"/>
<text class="dv" transform="translate(202.16,588.83) rotate(-45)" x="0" y="4.4" text-anchor="middle">250</text>
<text class="dv" x="173.41" y="508.85" text-anchor="middle">Member 19</text>
<rect x="228.13" y="542.23" width="4.03" height="31.60" fill="#ff7f0e"/>
<rect x="232.16" y="538.43" width="4.03" height="35.40" fill="#0000ff"/>
<rect x="236.19" y="534.73" width="4.03" height="39.10" fill="#ff0000"/>
<rect x="247.70" y="556.93" width="4.03" height="16.90" fill="#ff7f0e"/>
<rect x="251.73" y="555.63" width="4.03" height="18.20" fill="#0000ff"/>
<rect x="255.76" y="554.43" width="4.03" height="19.40" fill="#ff0000"/>
<rect x="267.27" y="562.53" width="4.03" height="11.30" fill="#ff7f0e"/>
<rect x="271.30" y="562.23" width="4.03" height="11.60" fill="#0000ff"/>
<rect x="275.33" y="562.23" width="4.03" height="11.60" fill="#ff0000"/>
<rect x="286.84" y="566.63" width="4.03" height="7.20" fill="#ff7f0e"/>
<rect x="290.87" y="566.33" width="4.03" height="7.50" fill="#0000ff"/>
<rect x="294.90" y="566.33" width="4.03" height="7.50" fill="#ff0000"/>
<rect x="225.00" y="511.55" width="77.48" height="62.28" fill="none" stroke="#000" stroke-width="0.8"/>
<line x1="222.60" y1="573.83" x2="225.00" y2="573.83" stroke="#000" stroke-width="0.8"/>
<line x1="222.60" y1="539.30" x2="225.00" y2="539.30" stroke="#000" stroke-width="0.8"/>
<line x1="234.17" y1="573.83" x2="234.17" y2="576.23" stroke="#000" stroke-width="0.8"/>
<text class="dv" transform="translate(233.57,588.83) rotate(-45)" x="0" y="4.4" text-anchor="middle">100</text>
<line x1="253.74" y1="573.83" x2="253.74" y2="576.23" stroke="#000" stroke-width="0.8"/>
<text class="dv" transform="translate(253.14,588.83) rotate(-45)" x="0" y="4.4" text-anchor="middle">150</text>
<line x1="273.31" y1="573.83" x2="273.31" y2="576.23" stroke="#000" stroke-width="0.8"/>
<text class="dv" transform="translate(272.71,588.83) rotate(-45)" x="0" y="4.4" text-anchor="middle">200</text>
<line x1="292.88" y1="573.83" x2="292.88" y2="576.23" stroke="#000" stroke-width="0.8"/>
<text class="dv" transform="translate(292.28,588.83) rotate(-45)" x="0" y="4.4" text-anchor="middle">250</text>
<text class="dv" x="263.74" y="508.85" text-anchor="middle">Member 20</text>
<rect x="318.55" y="542.53" width="4.03" height="31.30" fill="#ff7f0e"/>
<rect x="322.58" y="534.43" width="4.03" height="39.40" fill="#0000ff"/>
<rect x="326.61" y="526.23" width="4.03" height="47.60" fill="#ff0000"/>
<rect x="338.12" y="556.33" width="4.03" height="17.50" fill="#ff7f0e"/>
<rect x="342.15" y="555.63" width="4.03" height="18.20" fill="#0000ff"/>
<rect x="346.18" y="553.43" width="4.03" height="20.40" fill="#ff0000"/>
<rect x="357.69" y="563.53" width="4.03" height="10.30" fill="#ff7f0e"/>
<rect x="361.72" y="562.83" width="4.03" height="11.00" fill="#0000ff"/>
<rect x="365.75" y="561.63" width="4.03" height="12.20" fill="#ff0000"/>
<rect x="377.26" y="567.23" width="4.03" height="6.60" fill="#ff7f0e"/>
<rect x="381.29" y="566.63" width="4.03" height="7.20" fill="#0000ff"/>
<rect x="385.32" y="566.63" width="4.03" height="7.20" fill="#ff0000"/>
<rect x="315.65" y="511.55" width="76.83" height="62.28" fill="none" stroke="#000" stroke-width="0.8"/>
<line x1="313.25" y1="573.83" x2="315.65" y2="573.83" stroke="#000" stroke-width="0.8"/>
<line x1="313.25" y1="539.30" x2="315.65" y2="539.30" stroke="#000" stroke-width="0.8"/>
<line x1="324.60" y1="573.83" x2="324.60" y2="576.23" stroke="#000" stroke-width="0.8"/>
<text class="dv" transform="translate(324.00,588.83) rotate(-45)" x="0" y="4.4" text-anchor="middle">100</text>
<line x1="344.17" y1="573.83" x2="344.17" y2="576.23" stroke="#000" stroke-width="0.8"/>
<text class="dv" transform="translate(343.56,588.83) rotate(-45)" x="0" y="4.4" text-anchor="middle">150</text>
<line x1="363.74" y1="573.83" x2="363.74" y2="576.23" stroke="#000" stroke-width="0.8"/>
<text class="dv" transform="translate(363.13,588.83) rotate(-45)" x="0" y="4.4" text-anchor="middle">200</text>
<line x1="383.31" y1="573.83" x2="383.31" y2="576.23" stroke="#000" stroke-width="0.8"/>
<text class="dv" transform="translate(382.70,588.83) rotate(-45)" x="0" y="4.4" text-anchor="middle">250</text>
<text class="dv" x="354.06" y="508.85" text-anchor="middle">Member 21</text>
<text class="dv" transform="translate(5.1,413.2) rotate(-90)" x="0" y="4.4" text-anchor="middle">Number gridpoints []</text>
<text class="dv" x="309.4" y="613" text-anchor="middle">Precipitation threshold [mm]</text>
<rect x="565.2" y="242.3" width="12" height="9.1" rx="1.6" ry="1.6" fill="#fff" fill-opacity="0.8" stroke="#d4d4d4" stroke-width="0.7"/>
<text class="cp" x="157.6" y="636.5">(b) Control and individual ensemble members</text>
</svg></body></html>
